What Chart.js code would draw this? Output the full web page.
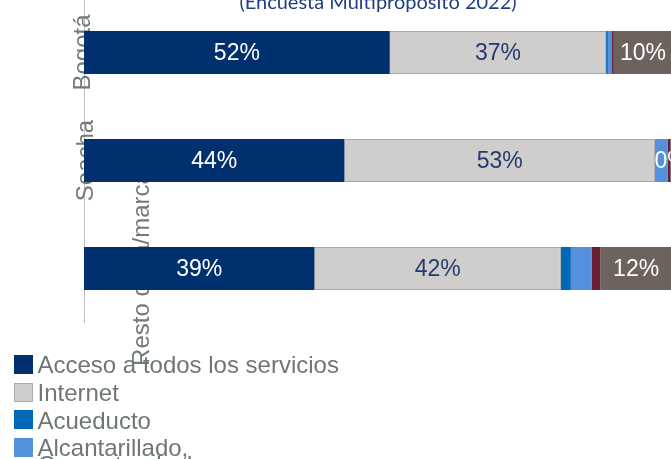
<!DOCTYPE html>
<html>
<head>
<meta charset="utf-8">
<script src="https://cdn.jsdelivr.net/npm/chart.js@4.4.1/dist/chart.umd.min.js"></script>
<style>
html,body{margin:0;padding:0;width:671px;height:459px;overflow:hidden;background:#ffffff;position:relative;}
#wrap{position:absolute;left:0;top:-40px;width:700px;height:420px;}
#legend{position:absolute;left:13.5px;top:351px;font-family:"Liberation Sans",Arial,sans-serif;font-size:24px;color:#6f7772;}
.item{display:flex;align-items:flex-start;height:27.7px;white-space:pre-line;}
.sw{width:19px;height:19px;box-sizing:border-box;border:1px solid #aaaaaa;margin-top:4px;margin-right:5px;flex:none;}
.txt{line-height:17px;padding-top:5.4px;}
</style>
</head>
<body>
<div id="wrap"><canvas id="c" width="700" height="420"></canvas></div>
<div id="legend"></div>
<script>
// ---- data ----
const categories = ['Bogotá', 'Soacha', 'Resto de la/marca'];
const seriesNames = ['Acceso a todos los servicios', 'Internet', 'Acueducto', 'Alcantarillado,\nGas natural y basuras', 'Energía eléctrica', 'Ninguno'];
const accesoTodos    = [52.0, 44.3, 39.2];
const internet       = [36.8, 52.8, 41.9];
const acueducto      = [0.3, 0.1, 1.7];
const alcantarillado = [0.7, 2.1, 3.5];
const basuras        = [0.3, 0.4, 1.5];
const otros          = [9.9, 0.3, 12.2];
const titleText = '(Encuesta Multipropósito 2022)';

// ---- styles ----
const colors = ['#00306e', '#d0cecc', '#0068b8', '#5590dc', '#6b1f35', '#6e625e'];
const labelColors = ['#ffffff', '#243a6e', '#ffffff', '#ffffff', '#ffffff', '#ffffff'];
const showLabel = [true, true, false, false, false, true];

const seriesData = [accesoTodos, internet, acueducto, alcantarillado, basuras, otros];
const datasets = seriesData.map((d, i) => ({
  label: seriesNames[i],
  data: d,
  backgroundColor: colors[i],
  borderColor: i === 1 ? '#a8a8a8' : colors[i],
  borderWidth: i === 1 ? 1 : 0,
  borderSkipped: 'start'
}));

const valueLabels = {
  id: 'valueLabels',
  afterDatasetsDraw(chart) {
    const ctx = chart.ctx;
    ctx.save();
    ctx.font = '23px "Liberation Sans", Arial, sans-serif';
    ctx.textAlign = 'center';
    ctx.textBaseline = 'middle';
    chart.data.datasets.forEach((ds, i) => {
      if (!showLabel[i]) return;
      const meta = chart.getDatasetMeta(i);
      meta.data.forEach((bar, j) => {
        const v = ds.data[j];
        ctx.fillStyle = labelColors[i];
        ctx.fillText(Math.round(v) + '%', (bar.x + bar.base) / 2, bar.y + 1);
      });
    });
    ctx.restore();
  }
};

const catLabels = {
  id: 'catLabels',
  beforeDatasetsDraw(chart) {
    const ctx = chart.ctx, ys = chart.scales.y, left = chart.chartArea.left;
    const offsets = [6, 8.5, 65];
    ctx.save();
    ctx.font = '24px "Liberation Sans", Arial, sans-serif';
    ctx.fillStyle = '#737b76';
    ctx.textAlign = 'center';
    ctx.textBaseline = 'alphabetic';
    chart.data.labels.forEach((lab, i) => {
      const py = ys.getPixelForValue(i);
      ctx.save();
      ctx.translate(left + offsets[i], py);
      ctx.rotate(-Math.PI / 2);
      ctx.fillText(lab, 0, 0);
      ctx.restore();
    });
    ctx.restore();
  }
};

const titlePlugin = {
  id: 'topTitle',
  afterDraw(chart) {
    const ctx = chart.ctx, a = chart.chartArea;
    ctx.save();
    ctx.font = '20px Lato, "Liberation Sans", sans-serif';
    ctx.fillStyle = '#1f3c84';
    ctx.textAlign = 'center';
    ctx.textBaseline = 'alphabetic';
    ctx.fillText(titleText, (a.left + a.right) / 2, a.top + 10.5);
    ctx.restore();
  }
};

new Chart(document.getElementById('c'), {
  type: 'bar',
  data: { labels: categories, datasets: datasets },
  options: {
    indexAxis: 'y',
    responsive: false,
    animation: false,
    devicePixelRatio: 1,
    barPercentage: 0.4,
    categoryPercentage: 1,
    layout: { padding: { left: 84, right: 28, top: 38.5, bottom: 57.5 } },
    plugins: { legend: { display: false }, tooltip: { enabled: false }, title: { display: false } },
    scales: {
      x: { stacked: true, min: 0, max: 100, display: false },
      y: {
        stacked: true,
        ticks: { display: false },
        grid: { display: false, drawTicks: false },
        border: { display: true, color: '#bfbfbf', width: 1 }
      }
    }
  },
  plugins: [catLabels, valueLabels, titlePlugin]
});

// ---- HTML legend ----
const lg = document.getElementById('legend');
seriesNames.forEach((n, i) => {
  const it = document.createElement('div'); it.className = 'item';
  const sw = document.createElement('div'); sw.className = 'sw'; sw.style.background = colors[i];
  if (i !== 1) sw.style.borderColor = colors[i];
  const tx = document.createElement('div'); tx.className = 'txt'; tx.textContent = n;
  it.appendChild(sw); it.appendChild(tx); lg.appendChild(it);
});
</script>
</body>
</html>
